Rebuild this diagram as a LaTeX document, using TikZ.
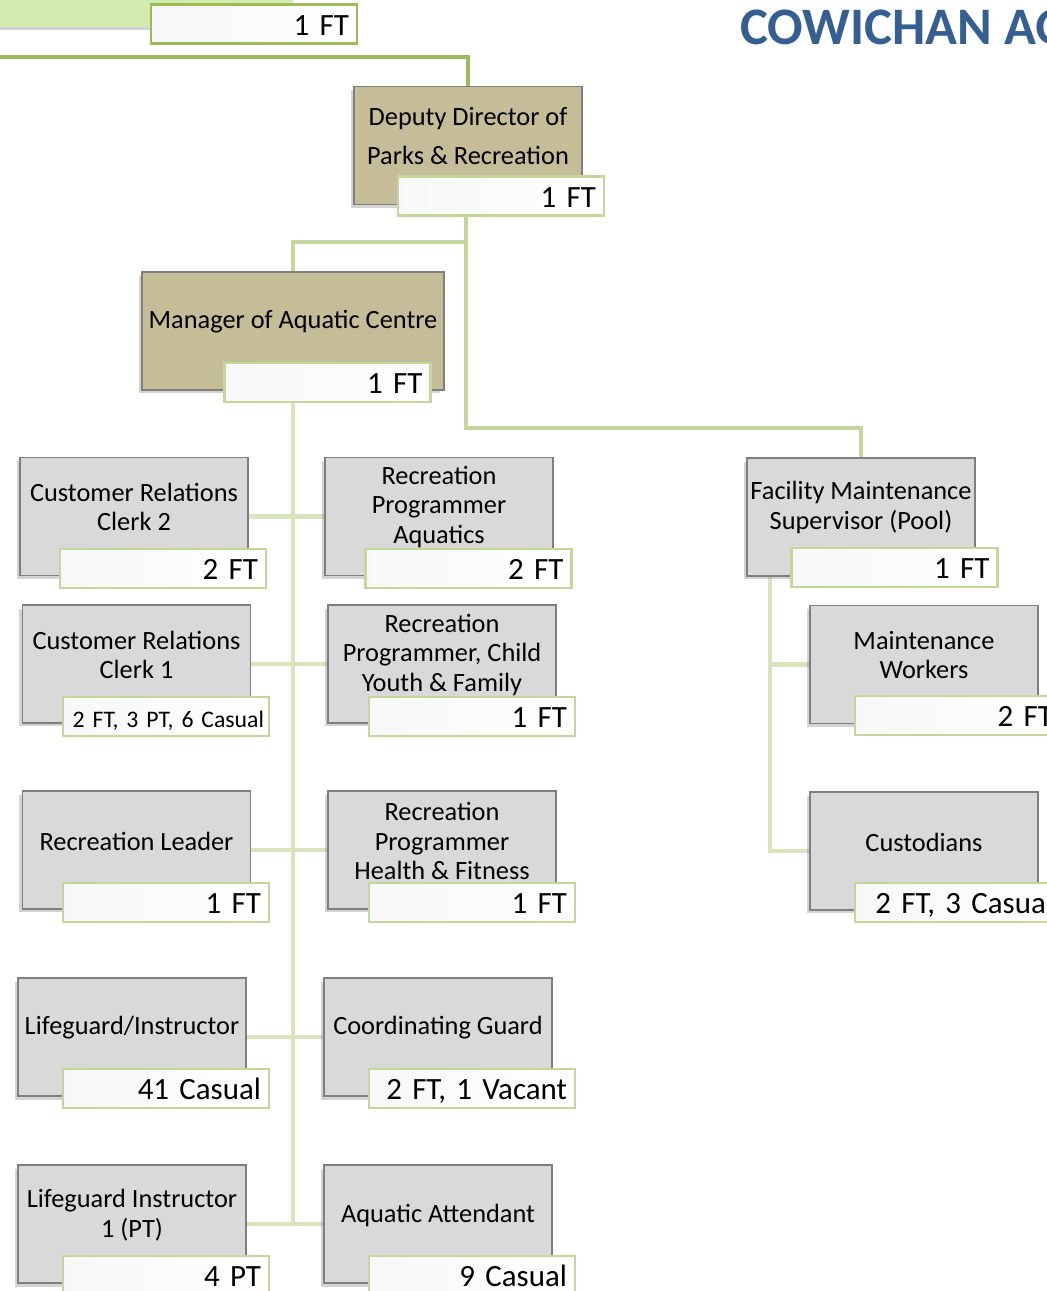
\documentclass[tikz,border=0pt]{standalone}
\usepackage{fontspec}
\setmainfont{Carlito}
\usetikzlibrary{positioning, shadows, backgrounds}
\frenchspacing

\definecolor{boxgray}{HTML}{D9D9D9}
\definecolor{boxedge}{HTML}{7F7F7F}
\definecolor{deputytan}{HTML}{C4BD97}
\definecolor{directorgreen}{HTML}{D4EBB0}
\definecolor{linegreen}{HTML}{9BBB59}
\definecolor{lightgreen}{HTML}{C3D69B}
\definecolor{palegreen}{HTML}{D7E4BD}
\definecolor{titleblue}{HTML}{365F91}

\tikzset{
  job/.style={rectangle, draw=boxedge, line width=0.8pt, fill=boxgray,
    minimum width=4.56cm, minimum height=2.36cm, inner sep=0pt,
    drop shadow={shadow xshift=-0.07cm, shadow yshift=-0.07cm, opacity=0.35}},
  head/.style={job, fill=deputytan},
  jobtext/.style={align=center, inner sep=0pt, font=\fontsize{15}{16.7}\selectfont},
  badge/.style={rectangle, draw=lightgreen, line width=1.2pt,
    left color=black!3, middle color=white, right color=white,
    minimum width=4.12cm, minimum height=0.78cm, inner xsep=0.16cm, inner ysep=0pt,
    text width=3.8cm, align=right, text height=14pt, text depth=1pt,
    font=\fontsize{17.6}{20}\selectfont},
  trunk/.style={draw=palegreen, line width=2.8pt},
  branch/.style={draw=lightgreen, line width=2.8pt},
  topline/.style={draw=linegreen, line width=2.8pt}
}

\begin{document}
\begin{tikzpicture}[x=0.02cm, y=-0.02cm]
\useasboundingbox (0,0) rectangle (1047,1291) ;
\clip (0,0) rectangle (1047,1291) ;

\node[job, fill=directorgreen, draw=none, minimum width=6.26cm, minimum height=0.94cm] at (136.5,3.5) (director) {} ;
\node[badge, draw=linegreen] at (254,24) (directorn) {1 FT} ;
\node[font=\fontsize{30}{34}\selectfont\bfseries, text=titleblue, anchor=base west, inner sep=0pt] at (740,45) (title) {COWICHAN AQ} ;

\node[head] at (468,145.5) (dep) {} ;
\node[jobtext] at (468,136) (dept) {Deputy Director of\\[6pt]Parks \& Recreation} ;
\node[badge] at (501,196) (depn) {1 FT} ;

\node[head, minimum width=6.04cm] at (293,331) (mgr) {} ;
\node[jobtext] at (293,322) (mgrt) {Manager of Aquatic Centre} ;
\node[badge] at (327.5,382.5) (mgrn) {1 FT} ;

\node[job] at (861,517) (fac) {} ;
\node[jobtext] at (861,507.5) (fact) {Facility Maintenance\\Supervisor (Pool)} ;
\node[badge] at (894.5,567.5) (facn) {1 FT} ;

\node[job] at (924,664.5) (maint) {} ;
\node[jobtext] at (924,655) (maintt) {Maintenance\\Workers} ;
\node[badge] at (958,715.5) (maintn) {2 FT} ;

\node[job] at (924,851) (cust) {} ;
\node[jobtext] at (924,842) (custt) {Custodians} ;
\node[badge] at (958,902.5) (custn) {2 FT, 3 Casual} ;

\node[job] at (134,516.5) (crc2) {} ;
\node[jobtext] at (134,507) (crc2t) {Customer Relations\\Clerk 2} ;
\node[badge] at (163,568.5) (crc2n) {2 FT} ;

\node[job] at (439,516.5) (rpa) {} ;
\node[jobtext] at (439,507) (rpat) {Recreation\\Programmer\\Aquatics} ;
\node[badge] at (468.5,568.5) (rpan) {2 FT} ;

\node[job] at (136.5,664) (crc1) {} ;
\node[jobtext] at (136.5,655) (crc1t) {Customer Relations\\Clerk 1} ;
\node[badge, text width=3.92cm, inner xsep=0.1cm, font=\fontsize{13.5}{16}\selectfont] at (166,716.5) (crc1n) {2 FT, 3 PT, 6 Casual} ;

\node[job] at (442,664) (rpcyf) {} ;
\node[jobtext] at (442,655) (rpcyft) {Recreation\\Programmer, Child\\Youth \& Family} ;
\node[badge] at (472,716.5) (rpcyfn) {1 FT} ;

\node[job] at (136.5,850) (rl) {} ;
\node[jobtext] at (136.5,841) (rlt) {Recreation Leader} ;
\node[badge] at (166,902.5) (rln) {1 FT} ;

\node[job] at (442,850) (rphf) {} ;
\node[jobtext] at (442,841) (rphft) {Recreation\\Programmer\\Health \& Fitness} ;
\node[badge] at (472,902.5) (rphfn) {1 FT} ;

\node[job] at (132,1037) (lg) {} ;
\node[jobtext] at (132,1028) (lgt) {Lifeguard/Instructor} ;
\node[badge] at (166,1088.5) (lgn) {41 Casual} ;

\node[job] at (438,1037) (cg) {} ;
\node[jobtext] at (438,1028) (cgt) {Coordinating Guard} ;
\node[badge] at (472,1088.5) (cgn) {2 FT, 1 Vacant} ;

\node[job] at (132,1224) (lgi) {} ;
\node[jobtext] at (132,1215) (lgit) {Lifeguard Instructor\\1 (PT)} ;
\node[badge] at (166,1275.5) (lgin) {4 PT} ;

\node[job] at (438,1224) (aa) {} ;
\node[jobtext] at (438,1215) (aat) {Aquatic Attendant} ;
\node[badge] at (472,1275.5) (aan) {9 Casual} ;

\begin{scope}[on background layer]
\coordinate (edge) at (-10,57) ;
\coordinate (split) at (466,242) ;
\coordinate (facturn) at (861,428) ;
\coordinate (facstem) at (770,576) ;
\draw[topline] (edge) -| (dep.north) ;
\draw[branch] (depn.south -| split) -- (split) -| (mgr.north) ;
\draw[branch] (split) |- (facturn) -- (fac.north) ;
\draw[trunk] (mgr.south) -- (mgr.south |- aa.west) ;
\draw[trunk] (crc2.east) -- (rpa.west) ;
\draw[trunk] (crc1.east) -- (rpcyf.west) ;
\draw[trunk] (rl.east) -- (rphf.west) ;
\draw[trunk] (lg.east) -- (cg.west) ;
\draw[trunk] (lgi.east) -- (aa.west) ;
\draw[trunk] (facstem) |- (cust.west) ;
\draw[trunk] (facstem |- maint.west) -- (maint.west) ;
\end{scope}
\end{tikzpicture}
\end{document}
